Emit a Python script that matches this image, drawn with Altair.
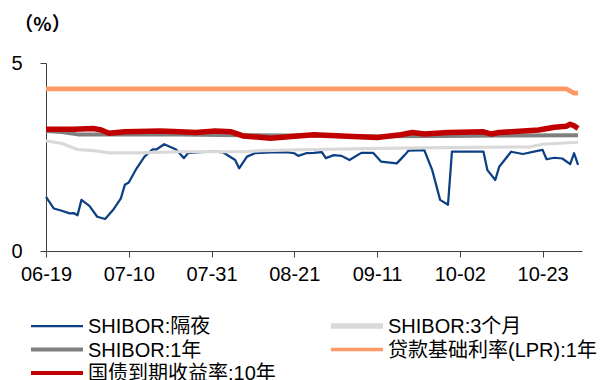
import altair as alt
import pandas as pd

# Money-market and benchmark rates, 2019-06-19 to 2019-11-01 (%).
# Each series: day offsets from the start date and the rate on that day.
START = "2019-06-19"

on_days = [0, 2, 4, 6, 7, 8, 9, 11, 13, 15, 17, 19, 20, 21, 23, 25, 27, 28, 30, 33,
           35, 36, 39, 43, 45, 48, 49, 51, 53, 57, 61, 63, 64, 66, 68, 70, 71, 73, 75,
           77, 80, 83, 85, 89, 91, 92, 96, 98, 100, 102, 103, 107, 111, 112, 114, 115,
           118, 121, 125, 126, 127, 129, 131, 133, 134, 135]
on_vals = [1.44, 1.13, 1.07, 1.00, 1.01, 0.95, 1.36, 1.20, 0.91, 0.85, 1.09, 1.40, 1.76,
           1.82, 2.20, 2.51, 2.70, 2.70, 2.84, 2.70, 2.47, 2.60, 2.63, 2.64, 2.62, 2.42,
           2.20, 2.51, 2.60, 2.62, 2.63, 2.60, 2.53, 2.60, 2.61, 2.63, 2.47, 2.55, 2.53,
           2.42, 2.61, 2.61, 2.38, 2.33, 2.55, 2.67, 2.68, 2.15, 1.36, 1.23, 2.64, 2.64,
           2.64, 2.15, 1.89, 2.24, 2.64, 2.58, 2.67, 2.69, 2.44, 2.48, 2.46, 2.31, 2.60,
           2.29]

m3_days = [0, 4, 8, 12, 16, 24, 34, 50, 55, 68, 85, 101, 123, 126, 135]
m3_vals = [2.93, 2.86, 2.70, 2.67, 2.61, 2.61, 2.64, 2.64, 2.67, 2.70, 2.73, 2.75, 2.77,
           2.84, 2.89]

y1_days = [0, 4, 8, 34, 50, 68, 85, 101, 115, 135]
y1_vals = [3.19, 3.16, 3.10, 3.10, 3.08, 3.07, 3.05, 3.06, 3.07, 3.08]

lpr_days = [0, 132, 134, 135]
lpr_vals = [4.31, 4.31, 4.20, 4.20]

gb_days = [0, 7, 12, 14, 16, 20, 29, 34, 38, 43, 47, 50, 57, 63, 68, 75, 84, 90, 93, 96,
           102, 111, 113, 115, 121, 125, 129, 132, 133, 134, 135]
gb_vals = [3.24, 3.24, 3.26, 3.22, 3.13, 3.17, 3.19, 3.17, 3.15, 3.19, 3.17, 3.06, 3.00,
           3.05, 3.09, 3.06, 3.02, 3.09, 3.15, 3.11, 3.15, 3.17, 3.11, 3.15, 3.19, 3.22,
           3.29, 3.32, 3.37, 3.33, 3.26]

names = ["SHIBOR:隔夜", "SHIBOR:3个月", "SHIBOR:1年", "贷款基础利率(LPR):1年", "国债到期收益率:10年"]
colors = ["#0d3f85", "#d9d9d9", "#7f7f7f", "#ff9966", "#c00000"]
widths = [2.25, 5.5, 4, 3.5, 4]

tick_dates = ["2019-06-19", "2019-07-10", "2019-07-31", "2019-08-21",
              "2019-09-11", "2019-10-02", "2019-10-23"]

series = [(names[0], on_days, on_vals), (names[1], m3_days, m3_vals),
          (names[2], y1_days, y1_vals), (names[3], lpr_days, lpr_vals),
          (names[4], gb_days, gb_vals)]

frames = []
for name, days, vals in series:
    frames.append(pd.DataFrame({
        "date": pd.Timestamp(START) + pd.to_timedelta(days, unit="D"),
        "rate": vals,
        "series": name,
    }))
df = pd.concat(frames, ignore_index=True)


def dt(s):
    t = pd.Timestamp(s)
    return alt.DateTime(year=t.year, month=t.month, date=t.day)


FONT = "Liberation Sans, Arial, Noto Sans CJK SC"

x = alt.X("date:T",
          scale=alt.Scale(domain=[dt("2019-06-19"), dt("2019-11-02")]),
          axis=alt.Axis(values=[dt(d) for d in tick_dates], format="%m-%d", title=None,
                        grid=False, tickSize=6, labelPadding=7, labelFontSize=20,
                        labelFont=FONT, labelColor="#000000", domainColor="#404040",
                        tickColor="#404040", labelFlush=False))
y = alt.Y("rate:Q",
          scale=alt.Scale(domain=[0, 5], nice=False),
          axis=alt.Axis(values=[0, 5], title="（%）", titleAngle=0, titleX=-4, titleY=-39,
                        titleAlign="center", titleBaseline="middle", titleFontSize=19,
                        titleFontWeight="bold", titleFont="Noto Sans CJK SC",
                        titleColor="#000000",
                        grid=False, tickSize=6, labelPadding=18, labelFontSize=20,
                        labelFont=FONT, labelColor="#000000", domainColor="#404040",
                        tickColor="#404040"))

color = alt.Color("series:N", scale=alt.Scale(domain=names, range=colors), legend=None)
stroke_w = alt.StrokeWidth("series:N", scale=alt.Scale(domain=names, range=widths),
                           legend=None)

base = alt.Chart(df).encode(x=x, y=y, color=color, strokeWidth=stroke_w)

layers = [base.transform_filter(alt.datum.series == n).mark_line(strokeJoin="round")
          for n in names]

# Legend: two columns, three rows under the plot (offsets relative to the plot area)
col_x = [-15, 285]
row_y = [263, 286.5, 310]
swatch_len = 52
entries = [(0, 0), (1, 0), (0, 1), (1, 1), (0, 2)]  # (column, row) per series
legend_layers = []
for (c, r), n, col, w in zip(entries, names, colors, widths):
    legend_layers.append(
        alt.Chart(df).mark_rule(strokeCap="butt").encode(
            x=alt.value(col_x[c]), x2=alt.value(col_x[c] + swatch_len),
            y=alt.value(row_y[r]), color=alt.value(col), strokeWidth=alt.value(w),
        ).transform_filter(alt.datum.series == n).transform_aggregate(k="count()")
    )
    legend_layers.append(
        alt.Chart(df).mark_text(align="left", baseline="middle", fontSize=20,
                                font=FONT, color="#000000").encode(
            x=alt.value(col_x[c] + swatch_len + 5), y=alt.value(row_y[r] + 1),
            text=alt.value(n),
        ).transform_filter(alt.datum.series == n).transform_aggregate(k="count()")
    )

chart = alt.layer(*layers, *legend_layers).properties(
    width=536, height=188,
    padding={"left": 46, "top": 63, "right": 30, "bottom": 129},
    autosize="none",
    background="#ffffff",
).configure_view(stroke=None)

chart.save("out.html", embed_options={"renderer": "svg", "actions": False})
